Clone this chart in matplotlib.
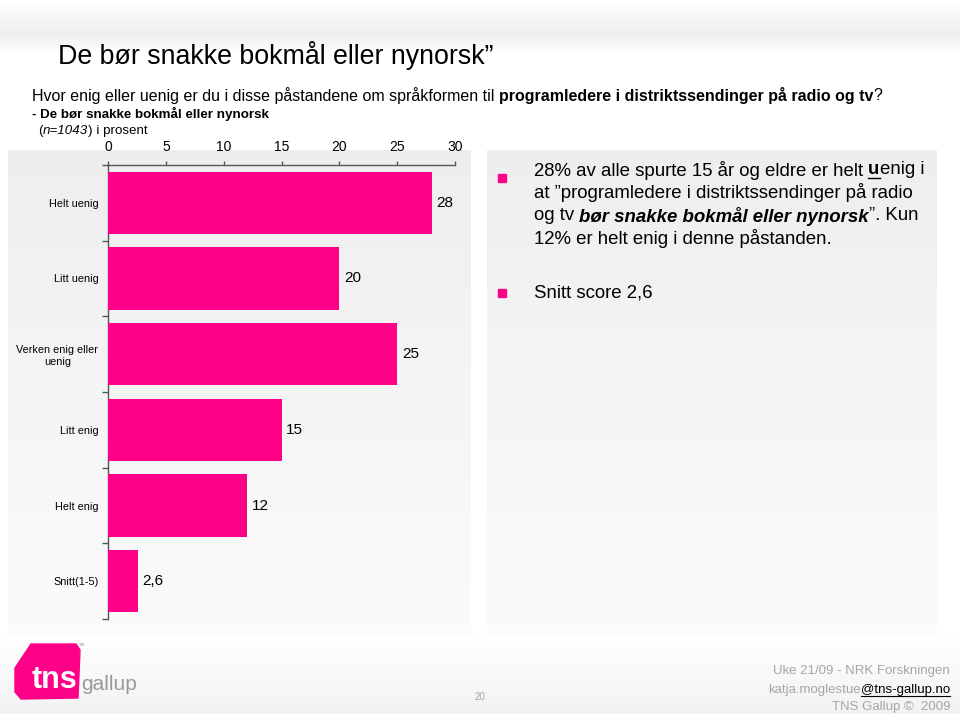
import numpy as np
import matplotlib
matplotlib.use("Agg")
import matplotlib.pyplot as plt
from matplotlib.patches import Rectangle, Polygon

plt.rcParams['font.family'] = ['Liberation Sans', 'DejaVu Sans']

# data
categories = ["Helt uenig", "Litt uenig", "Verken enig eller\nuenig", "Litt enig", "Helt enig", "Snitt(1-5)"]
values = [28, 20, 25, 15, 12, 2.6]
value_labels = ["28", "20", "25", "15", "12", "2,6"]
xticks = [0, 5, 10, 15, 20, 25, 30]

PINK = "#ff0088"
GREY_TXT = "#a6a6a6"

fig = plt.figure(figsize=(9.6, 7.14), dpi=100)

# background layer in pixel coordinates
bg = fig.add_axes([0, 0, 1, 1])
bg.set_xlim(0, 960)
bg.set_ylim(714, 0)
bg.axis("off")


def vgrad(x0, x1, y0, y1, c0, c1):
    g = np.linspace(c0, c1, 64).reshape(-1, 1)
    img = np.dstack([g, g, g])
    bg.imshow(img, extent=[x0, x1, y1, y0], aspect="auto", zorder=0,
              interpolation="bilinear")


vgrad(0, 960, 0, 35, 1.0, 0.935)
vgrad(0, 960, 35, 52, 0.935, 1.0)
vgrad(8, 471, 150, 636, 0.935, 0.985)
vgrad(487, 937, 150, 636, 0.935, 0.985)
vgrad(0, 960, 636, 714, 1.0, 0.95)

renderer = fig.canvas.get_renderer()


def rich(x, y, parts, size, color="black"):
    # draw text pieces one after another on one line
    for txt, props in parts:
        t = bg.text(x, y, txt, fontsize=size, color=props.get("color", color),
                    fontweight=props.get("weight", "normal"),
                    fontstyle=props.get("style", "normal"),
                    va="center", ha="left", zorder=5)
        bb = t.get_window_extent(renderer)
        if props.get("underline"):
            yl = y + size * 0.62
            bg.plot([x, x + bb.width], [yl, yl], color=props.get("color", color),
                    lw=1.0, zorder=5)
        x += bb.width
        if props.get("space", True):
            a = bg.text(0, 0, "x x", fontsize=size, fontweight=props.get("weight", "normal"))
            b = bg.text(0, 0, "xx", fontsize=size, fontweight=props.get("weight", "normal"))
            x += a.get_window_extent(renderer).width - b.get_window_extent(renderer).width
            a.remove()
            b.remove()
    return x


# header texts
bg.text(58, 55, "De bør snakke bokmål eller nynorsk”", fontsize=19.3, va="center", ha="left")
rich(32, 96, [("Hvor enig eller uenig er du i disse påstandene om språkformen til", {}),
              ("programledere i distriktssendinger på radio og tv", {"weight": "bold", "space": False}),
              ("?", {})], 11.5)
bg.text(32, 114, "- De bør snakke bokmål eller nynorsk", fontsize=9.6, fontweight="bold",
        va="center", ha="left")
rich(38, 131, [("(", {"space": False}), ("n=1043", {"style": "italic", "space": False}),
               (") i prosent", {})], 9.6)

# right side text
fs = 13.4
bg.add_patch(Rectangle((498, 174), 8, 8, color=PINK, zorder=5))
rich(534, 170, [("28% av alle spurte 15 år og eldre er helt", {}),
                ("u", {"weight": "bold", "underline": True, "space": False}),
                ("enig i", {})], fs)
rich(534, 193, [("at ”programledere i distriktssendinger på radio", {})], fs)
rich(534, 216, [("og tv", {}),
                ("bør snakke bokmål eller nynorsk", {"weight": "bold", "style": "italic", "space": False}),
                ("”. Kun", {})], fs)
rich(534, 239, [("12% er helt enig i denne påstanden.", {})], fs)
bg.add_patch(Rectangle((498, 289), 8, 8, color=PINK, zorder=5))
rich(534, 293, [("Snitt score 2,6", {})], fs)

# logo
bg.add_patch(Polygon([(31, 644), (76, 644), (80, 650), (78, 698), (21, 699), (15, 692), (15, 668)],
                     closed=True, color=PINK, zorder=5))
bg.text(55, 680, "tns", fontsize=22, color="white", fontweight="bold", va="center",
        ha="center", zorder=6)
bg.text(81, 684, "gallup", fontsize=15, color="#9a9a9a", va="center", ha="left", zorder=6)
bg.text(79, 645, "TM", fontsize=3, color="#999999", va="center", ha="left")

# footer
bg.text(480, 697, "20", fontsize=7, color=GREY_TXT, va="center", ha="center")
bg.text(950, 671, "Uke 21/09 - NRK Forskningen", fontsize=9.5, color=GREY_TXT, va="center", ha="right")
t2 = bg.text(950, 690, "@tns-gallup.no", fontsize=9.5, color="black", va="center", ha="right")
bb2 = t2.get_window_extent(renderer)
bg.plot([950 - bb2.width, 950], [696, 696], color="black", lw=0.8)
bg.text(950 - bb2.width, 690, "katja.moglestue", fontsize=9.5, color=GREY_TXT, va="center", ha="right")
bg.text(950, 707, "TNS Gallup ©  2009", fontsize=9.5, color=GREY_TXT, va="center", ha="right")

# chart
ax = fig.add_axes([108 / 960, 1 - 619 / 714, 347 / 960, (619 - 165) / 714])
ax.patch.set_alpha(0)
ypos = np.arange(len(categories))
ax.barh(ypos, values, height=0.82, color=PINK, zorder=3)
for y, v, lab in zip(ypos, values, value_labels):
    ax.text(v + 0.4, y, lab, fontsize=11, va="center", ha="left")

ax.set_xlim(0, 30)
ax.set_ylim(len(categories) - 0.5, -0.5)
ax.xaxis.tick_top()
ax.set_xticks(xticks)
ax.set_xticklabels([str(x) for x in xticks], fontsize=10)
ax.tick_params(axis="x", length=3, width=1, color="#555555", pad=5)
ax.set_yticks(ypos)
ax.set_yticklabels(categories, fontsize=7.8, linespacing=1.25)
ax.tick_params(axis="y", which="major", length=0, pad=7)
ax.set_yticks(np.arange(-0.5, len(categories)), minor=True)
ax.tick_params(axis="y", which="minor", length=4, width=1, color="#555555")
for lab in ax.get_yticklabels():
    lab.set_horizontalalignment("right")
    lab.set_multialignment("center")
for s in ["right", "bottom"]:
    ax.spines[s].set_visible(False)
for s in ["left", "top"]:
    ax.spines[s].set_color("#555555")
    ax.spines[s].set_linewidth(1)

fig.savefig("out.png", dpi=100)
